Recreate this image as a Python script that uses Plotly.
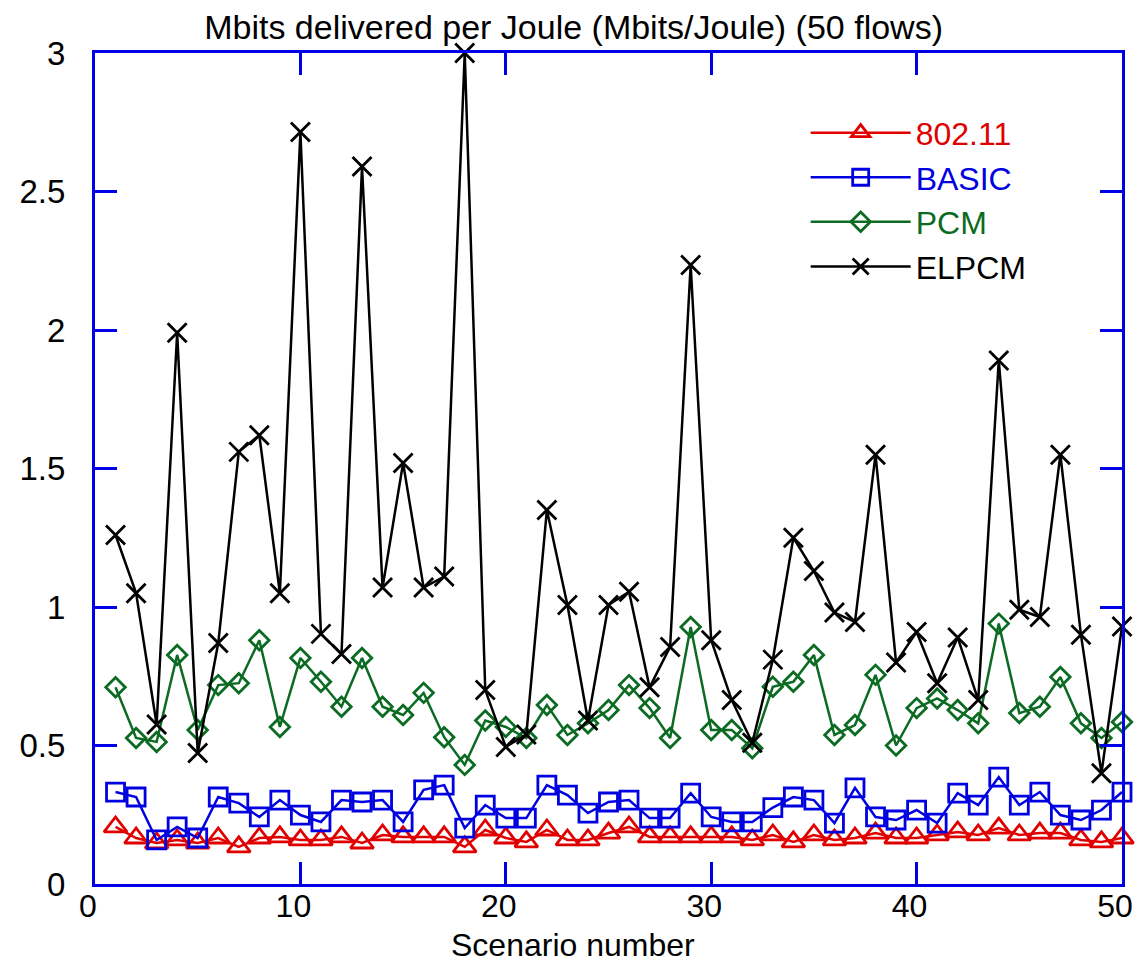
import plotly.graph_objects as go

scenarios = list(range(1, 51))

wifi_80211 = [0.206, 0.166, 0.148, 0.159, 0.148, 0.166, 0.134, 0.166, 0.170, 0.159,
              0.159, 0.170, 0.148, 0.177, 0.170, 0.170, 0.170, 0.134, 0.195, 0.166,
              0.152, 0.195, 0.159, 0.159, 0.184, 0.206, 0.170, 0.170, 0.170, 0.170,
              0.170, 0.159, 0.177, 0.152, 0.177, 0.159, 0.166, 0.184, 0.166, 0.166,
              0.177, 0.188, 0.177, 0.202, 0.177, 0.184, 0.184, 0.159, 0.152, 0.166]

basic = [0.332, 0.314, 0.159, 0.206, 0.166, 0.314, 0.292, 0.242, 0.303, 0.249,
         0.224, 0.303, 0.296, 0.303, 0.224, 0.340, 0.357, 0.202, 0.285, 0.238,
         0.238, 0.357, 0.321, 0.256, 0.296, 0.303, 0.238, 0.238, 0.328, 0.242,
         0.224, 0.224, 0.276, 0.314, 0.303, 0.220, 0.347, 0.242, 0.231, 0.267,
         0.220, 0.328, 0.285, 0.386, 0.285, 0.332, 0.249, 0.231, 0.267, 0.332]

pcm = [0.710, 0.527, 0.513, 0.827, 0.556, 0.718, 0.725, 0.880, 0.567, 0.816,
       0.730, 0.640, 0.816, 0.640, 0.610, 0.690, 0.530, 0.430, 0.590, 0.567,
       0.527, 0.646, 0.538, 0.580, 0.628, 0.718, 0.635, 0.527, 0.928, 0.556,
       0.556, 0.490, 0.712, 0.730, 0.827, 0.538, 0.574, 0.755, 0.500, 0.635,
       0.670, 0.628, 0.580, 0.940, 0.617, 0.640, 0.747, 0.580, 0.527, 0.585]

elpcm = [1.26, 1.05, 0.576, 1.99, 0.473, 0.870, 1.56, 1.62, 1.05, 2.715,
         0.903, 0.830, 2.59, 1.07, 1.52, 1.07, 1.11, 3.00, 0.700, 0.495,
         0.540, 1.35, 1.007, 0.590, 1.007, 1.055, 0.710, 0.856, 2.235, 0.880,
         0.664, 0.510, 0.810, 1.25, 1.13, 0.980, 0.946, 1.55, 0.800, 0.910,
         0.725, 0.890, 0.664, 1.89, 0.990, 0.964, 1.55, 0.900, 0.400, 0.930]

series_names = ["802.11", "BASIC", "PCM", "ELPCM"]
series_colors = ["#E00000", "#0000E0", "#0B6B22", "#000000"]

FONT = "Liberation Sans, Arial, sans-serif"
AXIS_BLUE = "#0000E6"

# the page body has an 8px margin; the figure is sized/margined to compensate
PAGE_OFFSET = 8
MARGIN_B = 81
PLOT_H = 965 - 53 - MARGIN_B

fig = go.Figure()

styles = [
    dict(symbol="triangle-up-open", size=20),
    dict(symbol="square-open", size=18),
    dict(symbol="diamond-open", size=15),
    dict(symbol="x-thin-open", size=19),
]
data = [wifi_80211, basic, pcm, elpcm]

for name, color, vals, st in zip(series_names, series_colors, data, styles):
    fig.add_trace(go.Scatter(
        x=scenarios, y=vals, mode="lines+markers",
        name=f"<span style='color:{color}'>{name}</span>",
        line=dict(color=color, width=2.5),
        marker=dict(symbol=st["symbol"], size=st["size"], color=color,
                    line=dict(color=color, width=2.8)),
        cliponaxis=False,
    ))

axis_common = dict(
    showline=True, linecolor=AXIS_BLUE, linewidth=3, mirror="ticks",
    ticks="inside", ticklen=22, tickwidth=3, tickcolor=AXIS_BLUE,
    showgrid=False, zeroline=False,
)

fig.update_xaxes(range=[0, 50], dtick=10, tick0=0, ticklabelstandoff=-8,
                 ticklabelshift=-7, ticklabeloverflow="allow",
                 tickfont=dict(family=FONT, size=32, color="black"), **axis_common)
fig.update_yaxes(range=[0, 3], dtick=0.5, tick0=0, ticklabelstandoff=20,
                 tickfont=dict(family=FONT, size=33, color="black"), **axis_common)

fig.update_layout(
    width=1145 - PAGE_OFFSET, height=965 - PAGE_OFFSET,
    margin=dict(l=89 - PAGE_OFFSET, r=16, t=53 - PAGE_OFFSET, b=MARGIN_B),
    paper_bgcolor="white", plot_bgcolor="white",
    font=dict(family=FONT, size=33, color="black"),
    title=dict(text="Mbits delivered per Joule (Mbits/Joule) (50 flows)",
               xref="paper", x=0.466, xanchor="center",
               yref="container", y=1 - 19 / 957, yanchor="middle",
               font=dict(family=FONT, size=34, color="black")),
    showlegend=True,
    legend=dict(x=0.692, y=0.937, xanchor="left", yanchor="top",
                bgcolor="rgba(0,0,0,0)", borderwidth=0,
                font=dict(family=FONT, size=32),
                itemwidth=100, tracegroupgap=0),
    annotations=[dict(text="Scenario number", xref="paper", yref="paper",
                      x=0.465, y=-MARGIN_B / PLOT_H, xanchor="center", yanchor="bottom",
                      showarrow=False,
                      font=dict(family=FONT, size=32, color="black"))],
)

fig.write_html("out.html")
